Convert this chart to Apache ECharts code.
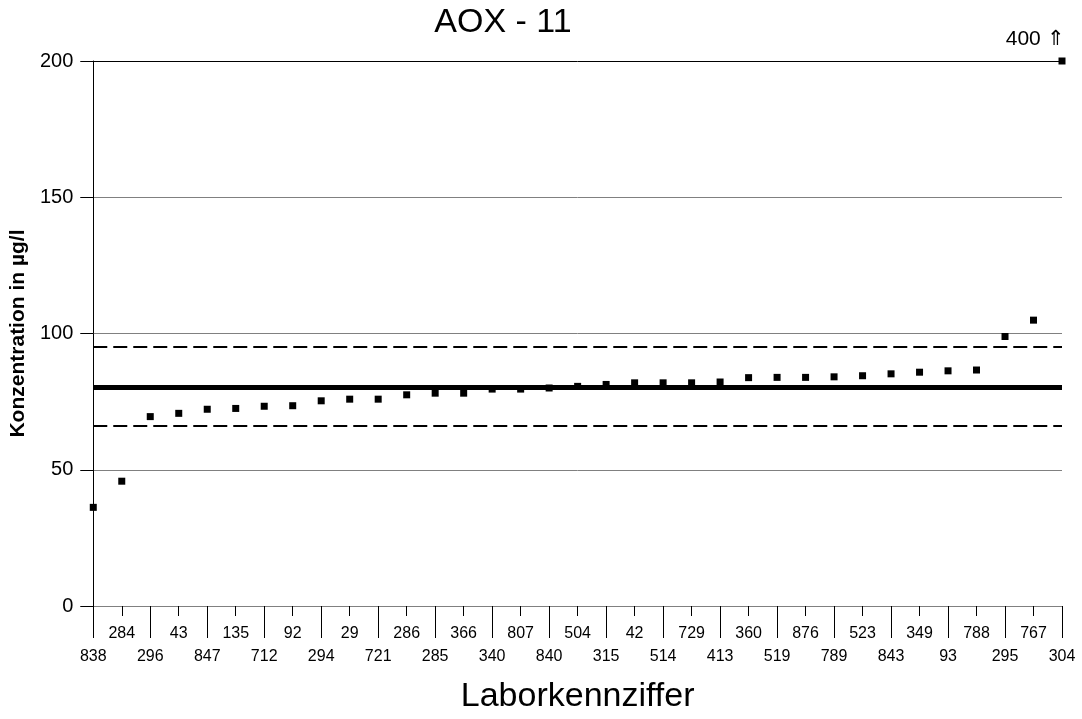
<!DOCTYPE html>
<html>
<head>
<meta charset="utf-8">
<script src="https://cdn.jsdelivr.net/npm/echarts@6/dist/echarts.min.js"></script>
<style>
html,body{margin:0;padding:0;background:#fff;}
#chart{width:1082px;height:719px;}
</style>
</head>
<body>
<div id="chart"></div>
<script>
const categories = ['838','284','296','43','847','135','712','92','294','29','721','286','285','366','340','807','840','504','315','42','514','729','413','360','519','876','789','523','843','349','93','788','295','767','304'];
const values = [36.2,45.8,69.5,70.7,72.2,72.5,73.3,73.5,75.3,75.9,75.9,77.5,78.1,78.1,79.6,79.6,80.0,80.6,81.3,81.9,81.9,81.9,82.2,83.8,83.9,83.9,84.1,84.5,85.2,85.8,86.3,86.6,98.9,104.9,400];
const assignedValue = 80.1;
const toleranceLimits = [66.3, 95.0];
const yMin = 0, yMax = 200, yInterval = 50;
const titleText = 'AOX - 11';
const yName = 'Konzentration in µg/l';
const xName = 'Laborkennziffer';

const FONT = '"Liberation Sans", Arial, "DejaVu Sans", sans-serif';
const chart = echarts.init(document.getElementById('chart'), null, {renderer: 'canvas'});

const scatterData = values.map(v => v > yMax
  ? {value: yMax, label: {show: true, formatter: v + ' ⇑', position: 'top', offset: [-27, -3], fontSize: 21, color: '#000', opacity: 1, fontFamily: FONT}}
  : v);

const option = {
  backgroundColor: '#fff',
  animation: false,
  graphic: [{
    type: 'text', x: 503, y: 23,
    style: {text: titleText, fontSize: 34, fontFamily: FONT, fill: '#000', textAlign: 'center', textVerticalAlign: 'middle'}
  }],
  grid: {left: 92, right: 20, top: 61, bottom: 112},
  xAxis: [{
    type: 'category', data: categories, boundaryGap: false,
    axisLine: {show: true, lineStyle: {color: '#808080', width: 1}},
    axisTick: {show: true, interval: 0, length: 10, lineStyle: {color: '#000'}},
    axisLabel: {interval: 0, fontSize: 16, lineHeight: 23, margin: 16, color: '#000', fontFamily: FONT,
      formatter: (v, i) => (i % 2 ? v : '\n' + v)},
    splitLine: {show: false},
    name: xName, nameLocation: 'middle', nameGap: 74,
    nameTextStyle: {fontSize: 34, color: '#000', fontFamily: FONT}
  }, {
    type: 'category', data: categories, boundaryGap: false, position: 'bottom',
    axisLine: {show: false},
    axisTick: {show: true, interval: (i) => i % 2 === 0, length: 32, lineStyle: {color: '#000'}},
    axisLabel: {show: false},
    splitLine: {show: false}
  }],
  yAxis: {
    type: 'value', min: yMin, max: yMax, interval: yInterval,
    axisLine: {show: true, lineStyle: {color: '#000'}},
    axisTick: {show: true, length: 13, lineStyle: {color: '#000'}},
    axisLabel: {fontSize: 20, margin: 20, color: '#000', fontFamily: FONT},
    splitLine: {show: true, lineStyle: {color: ['#808080', '#808080', '#808080', '#808080', '#000'], width: 1}},
    name: yName, nameLocation: 'middle', nameGap: 57,
    nameTextStyle: {fontSize: 21, fontWeight: 'bold', color: '#000', fontFamily: FONT}
  },
  series: [{
    type: 'scatter', data: scatterData, symbol: 'rect', symbolSize: 7,
    itemStyle: {color: '#000', opacity: 1}, z: 2, clip: false,
    emphasis: {disabled: true}
  }, {
    type: 'line', data: [], z: 5,
    markLine: {
      silent: true, symbol: 'none', label: {show: false}, animation: false,
      data: [
        {yAxis: assignedValue, lineStyle: {color: '#000', width: 5, type: 'solid', opacity: 1}},
        {yAxis: toleranceLimits[0], lineStyle: {color: '#000', width: 2, type: [14, 6], opacity: 1}},
        {yAxis: toleranceLimits[1], lineStyle: {color: '#000', width: 2, type: [14, 6], opacity: 1}}
      ]
    }
  }]
};
chart.setOption(option);
</script>
</body>
</html>
